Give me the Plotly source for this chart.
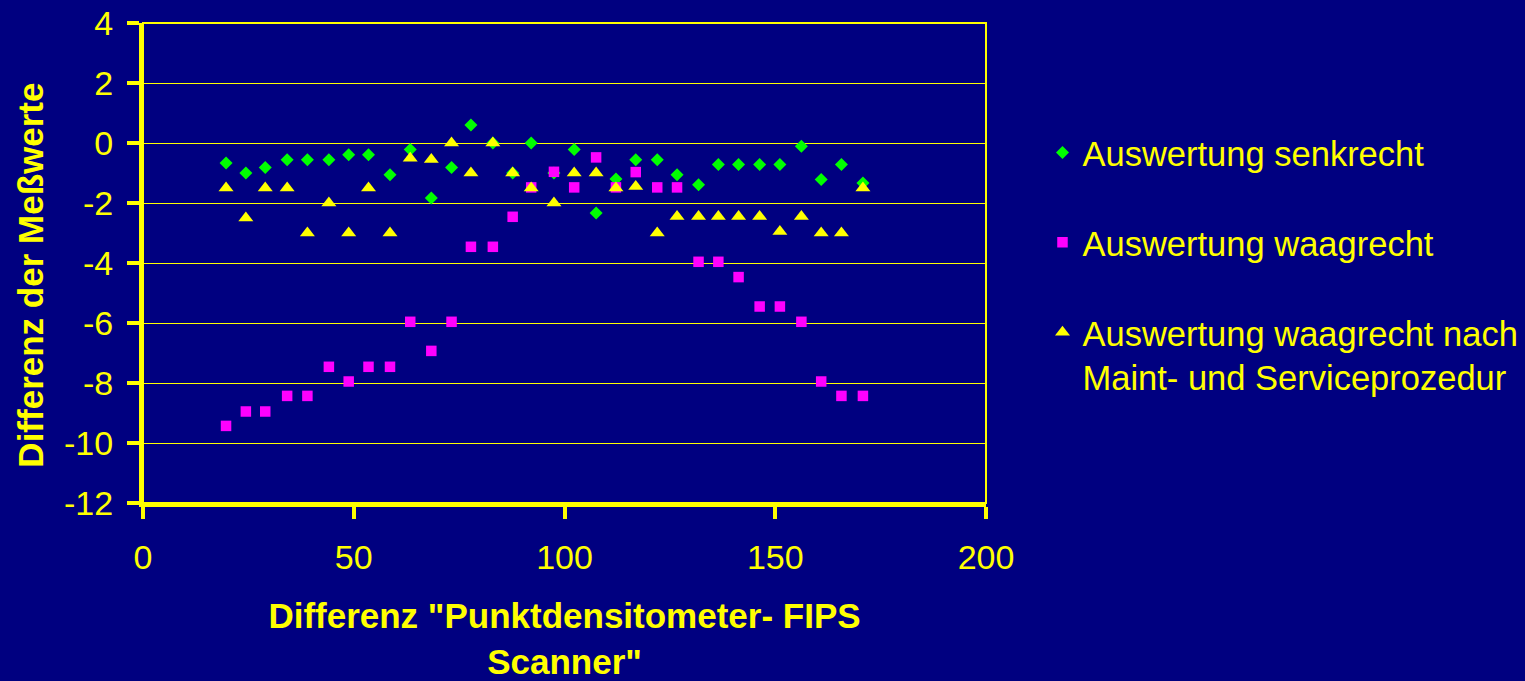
import plotly.graph_objects as go

x_vals = [19.7, 24.4, 29.0, 34.2, 39.0, 44.1, 48.8, 53.5, 58.6, 63.4, 68.4, 73.2,
          77.8, 83.0, 87.7, 92.1, 97.5, 102.3, 107.5, 112.2, 116.9, 122.0, 126.7,
          131.8, 136.5, 141.3, 146.3, 151.1, 156.2, 160.9, 165.7, 170.8]

senkrecht = [-0.67, -1.0, -0.82, -0.56, -0.56, -0.56, -0.39, -0.39, -1.06, -0.22,
             -1.83, -0.82, 0.6, 0.0, -1.0, 0.0, -1.0, -0.22, -2.33, -1.2, -0.56,
             -0.56, -1.06, -1.39, -0.72, -0.72, -0.72, -0.72, -0.11, -1.22, -0.72, -1.33]

waagrecht = [-9.43, -8.95, -8.95, -8.43, -8.43, -7.46, -7.95, -7.46, -7.46, -5.96,
             -6.93, -5.96, -3.46, -3.46, -2.46, -1.48, -0.96, -1.48, -0.48, -1.48,
             -0.97, -1.48, -1.48, -3.96, -3.96, -4.47, -5.45, -5.45, -5.96, -7.95,
             -8.43, -8.43]

nach_service = [-1.5, -2.5, -1.5, -1.5, -3.0, -2.0, -3.0, -1.5, -3.0, -0.51, -0.55,
                0.0, -1.0, 0.0, -1.0, -1.5, -2.0, -1.0, -1.0, -1.5, -1.45, -3.0,
                -2.45, -2.45, -2.45, -2.45, -2.45, -2.95, -2.45, -3.0, -3.0, -1.5]

series_names = ["Auswertung senkrecht", "Auswertung waagrecht",
                "Auswertung waagrecht nach<br>Maint- und Serviceprozedur"]

y_ticks = [4, 2, 0, -2, -4, -6, -8, -10, -12]
y_ticktext = ["4", "2", "0", "-2", "-4", "-6", "-8", "-10", "-12"]
x_ticks = [0, 50, 100, 150, 200]
x_ticktext = ["0", "50", "100", "150", "200"]

YEL = "#FFFF00"
BG = "#000080"
FONT = "Liberation Sans, Arial, sans-serif"

fig = go.Figure()
fig.add_trace(go.Scatter(x=x_vals, y=senkrecht, mode="markers", name=series_names[0],
                         legendgroup="a",
                         marker=dict(symbol="diamond", size=10, color="#00FF00",
                                     line=dict(width=0))))
fig.add_trace(go.Scatter(x=x_vals, y=waagrecht, mode="markers", name=series_names[1],
                         legendgroup="b",
                         marker=dict(symbol="square", size=10.5, color="#FF00FF",
                                     line=dict(width=0))))
fig.add_trace(go.Scatter(x=x_vals, y=nach_service, mode="markers", name=series_names[2],
                         legendgroup="c",
                         marker=dict(symbol="triangle-up", size=13, color=YEL,
                                     line=dict(width=0))))

fig.update_layout(
    width=1525, height=681,
    paper_bgcolor=BG, plot_bgcolor=BG,
    margin=dict(l=142.5, r=538.5, t=23, b=178, autoexpand=False),
    font=dict(family=FONT, color=YEL, size=34),
    showlegend=True,
    legend=dict(x=1.067, xanchor="left", y=0.7906, yanchor="top",
                font=dict(size=34.5, color=YEL, family=FONT),
                bgcolor="rgba(0,0,0,0)", tracegroupgap=42, valign="top",
                itemsizing="trace"),
    xaxis=dict(range=[0, 200], tickvals=x_ticks, ticktext=x_ticktext,
               showgrid=False, zeroline=False, automargin=False,
               showline=True, linecolor=YEL, linewidth=4,
               ticks="outside", ticklen=12, tickwidth=4, tickcolor=YEL,
               ticklabelstandoff=9,
               tickfont=dict(size=34, color=YEL, family=FONT),
               title=dict(text='<b>Differenz "Punktdensitometer- FIPS<br>Scanner"</b>',
                          font=dict(size=35, color=YEL, family=FONT), standoff=33)),
    yaxis=dict(range=[-12, 4], tickvals=y_ticks, ticktext=y_ticktext,
               showgrid=True, gridcolor=YEL, gridwidth=1, automargin=False,
               zeroline=False, showline=True, linecolor=YEL, linewidth=4,
               ticks="outside", ticklen=12, tickwidth=4, tickcolor=YEL,
               ticklabelstandoff=7,
               tickfont=dict(size=34, color=YEL, family=FONT)),
    annotations=[dict(text="<b>Differenz der Meßwerte</b>", xref="paper", yref="paper",
                      x=(29 - 142.5) / 844, y=1 - (275 - 23) / 480, textangle=-90,
                      showarrow=False, xanchor="center", yanchor="middle",
                      font=dict(size=35, color=YEL, family=FONT))],
    shapes=[dict(type="rect", xref="paper", yref="paper", x0=0, x1=1, y0=0, y1=1,
                 line=dict(color=YEL, width=2), layer="below")],
)

fig.write_html("out.html")
